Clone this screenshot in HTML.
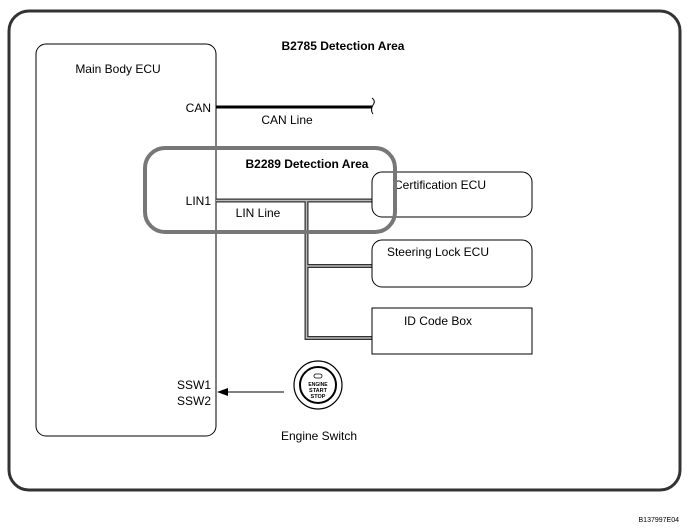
<!DOCTYPE html>
<html><head><style>
body{margin:0;background:#fff;}
svg{display:block;font-family:"Liberation Sans",Arial,sans-serif;}
</style></head><body>
<svg width="689" height="532" viewBox="0 0 689 532">
<rect x="9" y="11" width="671" height="479" rx="20" fill="none" stroke="#333" stroke-width="3"/>
<text x="343" y="50" font-size="12" font-weight="bold" text-anchor="middle">B2785 Detection Area</text>
<rect x="36" y="44" width="180" height="392" rx="10" fill="none" stroke="#000" stroke-width="1"/>
<text x="118" y="73" font-size="12" text-anchor="middle">Main Body ECU</text>
<text x="211" y="112" font-size="12" text-anchor="end">CAN</text>
<line x1="216" y1="107" x2="372" y2="107" stroke="#000" stroke-width="3"/>
<path d="M372 98 Q376 101 373 105 Q370 110 373 114" fill="none" stroke="#000" stroke-width="1"/>
<text x="287" y="124" font-size="12" text-anchor="middle">CAN Line</text>
<text x="307" y="168" font-size="12" font-weight="bold" text-anchor="middle">B2289 Detection Area</text>
<text x="211" y="205" font-size="12" text-anchor="end">LIN1</text>
<text x="258" y="217" font-size="12" text-anchor="middle">LIN Line</text>
<g fill="none" stroke-linejoin="miter">
<path d="M216 200.5 H372 M306.5 200.5 V338 H372 M306.5 266 H372" stroke="#333" stroke-width="4"/>
<path d="M216 200.5 H372 M306.5 200.5 V338 H372 M306.5 266 H372" stroke="#bbb" stroke-width="1.5"/>
</g>
<rect x="372" y="172" width="160" height="45" rx="10" fill="#fff" stroke="#000"/>
<text x="440" y="189" font-size="12" text-anchor="middle">Certification ECU</text>
<rect x="372" y="240" width="160" height="47" rx="10" fill="#fff" stroke="#000"/>
<text x="438" y="256" font-size="12" text-anchor="middle">Steering Lock ECU</text>
<rect x="372" y="308" width="160" height="46" fill="#fff" stroke="#000"/>
<text x="438" y="325" font-size="12" text-anchor="middle">ID Code Box</text>
<rect x="145" y="148" width="250" height="84" rx="20" fill="none" stroke="#777" stroke-width="4"/>
<text x="211" y="389" font-size="12" text-anchor="end">SSW1</text>
<text x="211" y="405" font-size="12" text-anchor="end">SSW2</text>
<line x1="226" y1="392" x2="284" y2="392" stroke="#000" stroke-width="1"/>
<polygon points="217,392 228,388 228,396" fill="#000"/>
<circle cx="318" cy="385" r="24" fill="none" stroke="#000" stroke-width="1.2"/>
<circle cx="318" cy="385" r="18" fill="none" stroke="#000" stroke-width="2"/>
<rect x="314" y="374" width="8" height="4" rx="2" fill="none" stroke="#000" stroke-width="0.8"/>
<text x="318" y="386" font-size="5" font-weight="bold" text-anchor="middle">ENGINE</text>
<text x="318" y="392" font-size="5.5" font-weight="bold" text-anchor="middle">START</text>
<text x="318" y="398" font-size="5.5" font-weight="bold" text-anchor="middle">STOP</text>
<text x="319" y="440" font-size="12" text-anchor="middle">Engine Switch</text>
<text x="679" y="522" font-size="7" text-anchor="end">B137997E04</text>
</svg>
</body></html>
